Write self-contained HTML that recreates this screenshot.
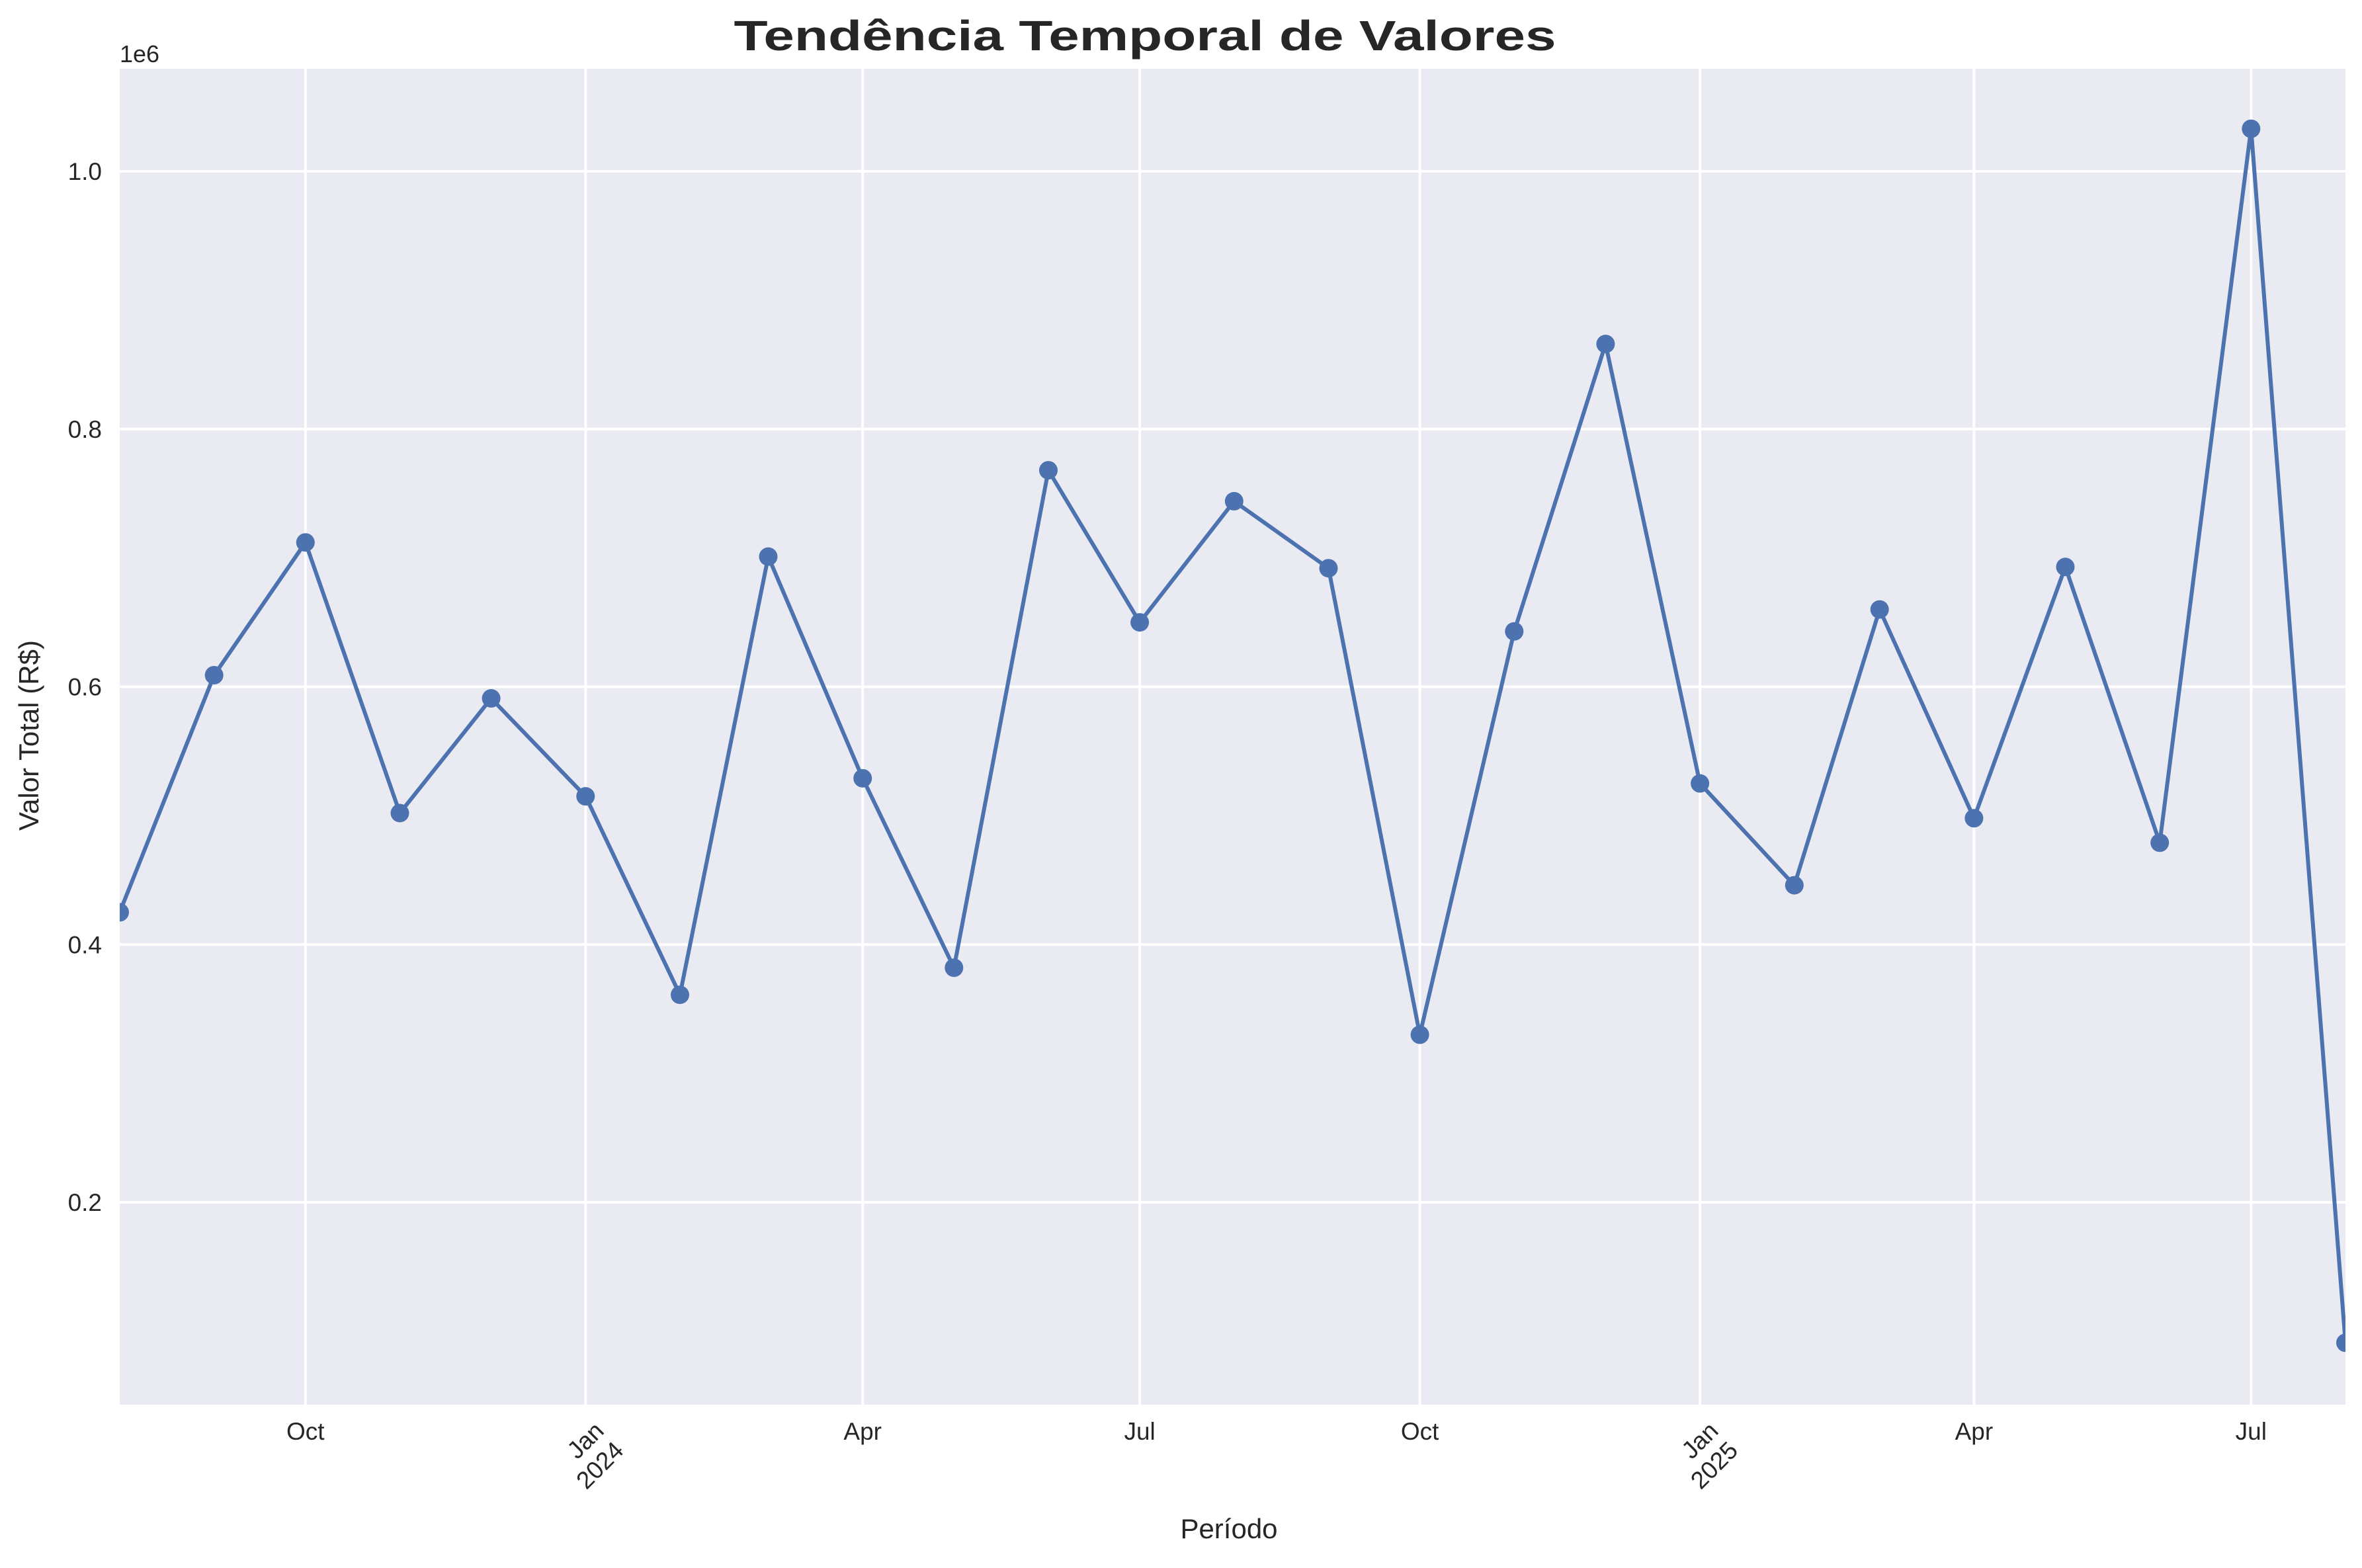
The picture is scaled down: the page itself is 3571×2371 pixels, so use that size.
<!DOCTYPE html>
<html><head><meta charset="utf-8"><style>
html,body{margin:0;padding:0;background:#fff}
svg text{font-family:"Liberation Sans",Arial,sans-serif;fill:#262626}
</style></head><body>
<svg id="chart" width="3571" height="2366" xmlns="http://www.w3.org/2000/svg">
<defs><clipPath id="clip"><rect x="181" y="104" width="3365" height="2020"/></clipPath></defs>
<rect x="181" y="104" width="3365" height="2020" fill="#eaeaf2"/>
<g id="grid"></g>
<g id="series" clip-path="url(#clip)"></g>
<g id="labels"></g>
<text x="1731" y="76" font-size="64" font-weight="bold" text-anchor="middle" textLength="1243" lengthAdjust="spacingAndGlyphs">Tendência Temporal de Valores</text>
<text x="1858" y="2326" font-size="42" text-anchor="middle">Período</text>
<text x="58" y="1112" font-size="42" text-anchor="middle" transform="rotate(-90 58 1112)">Valor Total (R$)</text>
<text x="181" y="94" font-size="36">1e6</text>
</svg>
<script>
const months = ["2023-08","2023-09","2023-10","2023-11","2023-12","2024-01","2024-02","2024-03","2024-04","2024-05","2024-06","2024-07","2024-08","2024-09","2024-10","2024-11","2024-12","2025-01","2025-02","2025-03","2025-04","2025-05","2025-06","2025-07","2025-08"];
const values = [425000,609000,712000,502000,591000,515000,361000,701000,529000,382000,768000,650000,744000,692000,330000,643000,866000,525000,446000,660000,498000,693000,479000,1033000,91000];
const yTicks = [0.2,0.4,0.6,0.8,1.0];
const xTickDates = ["2023-10","2024-01","2024-04","2024-07","2024-10","2025-01","2025-04","2025-07"];
const xTickLabels = ["Oct","Jan|2024","Apr","Jul","Oct","Jan|2025","Apr","Jul"];

const NS="http://www.w3.org/2000/svg";
const L=181,R=3546,T=104,B=2124;
const d0=Date.UTC(2023,7,1), d1=Date.UTC(2025,7,1);
function toT(s){const p=s.split("-");return Date.UTC(+p[0],+p[1]-1,1);}
function xS(s){return L+(toT(s)-d0)/(d1-d0)*(R-L);}
function yS(v){return 259+(1-v/1e6)*1948.75;}
function mk(tag,attrs,parent){const e=document.createElementNS(NS,tag);for(const k in attrs)e.setAttribute(k,attrs[k]);parent.appendChild(e);return e;}
const grid=document.getElementById("grid"),series=document.getElementById("series"),labels=document.getElementById("labels");
yTicks.forEach(t=>{const y=yS(t*1e6);
 const g=mk("line",{x1:L,x2:R,y1:y,y2:y,stroke:"#fff","stroke-width":4},grid);
 
 
 const tx=mk("text",{x:154,y:y+13,"font-size":37,"text-anchor":"end"},labels);
 tx.textContent=t.toFixed(1);
 
 
});
xTickDates.forEach((d,i)=>{const x=xS(d);
 const g=mk("line",{x1:x,x2:x,y1:T,y2:B,stroke:"#fff","stroke-width":4},grid);
 
 
 const lab=xTickLabels[i];
 if(lab.indexOf("|")<0){
  const tx=mk("text",{x:x,y:2177,"font-size":37,"text-anchor":"middle"},labels);
  tx.textContent=lab;
  
  
 } else {
  const parts=lab.split("|");
  const g2=mk("g",{transform:"translate("+(x+10)+",2146) rotate(-45)"},labels);
  
  
  const a=mk("text",{x:0,y:28,"font-size":37,"text-anchor":"end"},g2);a.textContent=parts[0];
  const b=mk("text",{x:0,y:70,"font-size":37,"text-anchor":"end"},g2);b.textContent=parts[1];
 }
});
const pts=months.map((m,i)=>xS(m)+","+yS(values[i])).join(" ");
const pl=mk("polyline",{points:pts,fill:"none",stroke:"#4c72b0","stroke-width":6,"stroke-linejoin":"round"},series);


months.forEach((m,i)=>{
 const c=mk("circle",{cx:xS(m),cy:yS(values[i]),r:14,fill:"#4c72b0"},series);
 
 
});
</script>
</body></html>
